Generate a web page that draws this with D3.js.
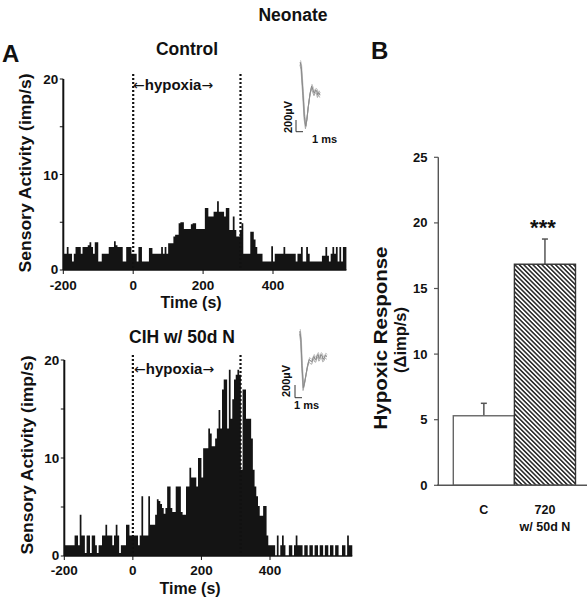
<!DOCTYPE html>
<html><head><meta charset="utf-8">
<script src="https://cdn.jsdelivr.net/npm/d3@7"></script>
<style>
body{margin:0;background:#fff}
svg{display:block}
text{font-family:"Liberation Sans",Arial,sans-serif;font-weight:bold;fill:#111}
</style>
</head><body>
<svg id="c" width="587" height="601"></svg>
<script>
// ---------- DATA ----------
const binWidth = 5;          // s
const binStart = -200;       // s
const controlRates = [1.7,1.7,2.4,1.7,1.7,0.9,1.7,2.4,2.4,2.4,1.7,2.4,2.4,2.4,2.6,2.9,2.4,1.7,2.9,2.9,
  0.9,0.9,1.7,1.7,1.7,1.7,2.4,2.4,2.4,3.0,2.6,2.4,2.4,2.4,0.9,0.9,2.4,2.4,2.4,1.7,
  1.7,1.7,0.9,2.4,2.4,0.9,0.9,0.9,0.9,2.3,2.3,1.7,1.7,1.7,1.7,1.7,2.4,1.7,2.4,1.7,
  2.8,2.8,2.8,3.5,3.7,3.7,4.9,5.0,5.0,4.3,4.3,4.3,4.3,4.8,4.9,4.9,4.3,4.3,4.3,4.3,
  4.3,6.5,6.5,5.6,5.6,5.6,6.1,6.1,7.2,6.1,6.1,6.1,5.6,6.5,6.5,4.2,4.2,5.6,4.2,3.5,
  3.5,4.2,4.9,1.7,1.7,1.7,1.7,4.0,4.0,3.2,2.4,1.7,1.7,1.7,0.9,0.9,0.9,0.9,0.9,2.5,
  0.9,1.7,1.7,1.7,1.7,1.7,2.4,1.7,1.7,1.7,1.7,1.7,1.7,0.9,1.7,1.7,2.4,0.9,0.9,2.4,
  1.7,0.9,0.9,0.9,0.9,0.9,0.9,0.9,1.5,1.5,2.4,1.5,0.9,1.7,2.4,1.7,2.4,0.9,2.4,0.9,
  2.4,2.4];
const cihRates = [1.1,1.1,1.1,1.1,1.1,1.1,2.1,2.1,1.1,4.2,2.1,2.1,0.3,2.1,2.1,0.3,2.1,2.1,1.1,0.3,
  1.1,1.1,2.1,2.1,3.2,2.1,2.1,2.1,1.1,2.1,3.2,2.1,0.3,1.1,1.1,1.1,3.2,3.2,2.1,2.1,
  2.1,2.1,2.1,1.1,2.1,6.1,2.1,2.1,2.1,6.1,3.2,3.2,3.2,4.2,5.8,5.6,5.3,4.9,4.3,4.9,
  7.1,7.1,4.9,4.5,4.5,7.1,7.1,7.1,4.5,4.2,4.2,7.1,7.1,9.0,8.0,8.0,8.0,7.1,10.0,10.0,
  8.0,11.0,11.0,11.0,13.0,12.5,11.2,11.2,12.0,13.0,14.9,13.0,17.0,18.0,18.0,13.0,19.0,14.0,16.0,18.0,
  18.5,19.0,18.5,8.8,17.0,17.0,14.0,14.0,14.0,12.0,8.8,7.1,6.1,5.1,4.1,4.1,5.1,5.1,2.1,1.1,
  1.1,1.1,1.1,0,2.1,0,1.1,2.1,1.1,0,0,1.1,1.1,0,1.1,2.1,1.1,1.1,1.1,0,
  1.1,1.1,0,1.1,1.1,0,1.1,1.1,0,1.1,1.1,0,1.1,1.1,0,1.1,1.1,0,1.1,1.1,
  0,0,1.1,1.1,0,2.1,1.1,1.1];
const timeTicks = [-200, 0, 200, 400];
const rateTicks = [0, 5, 10, 15, 20];
const rateTickLabels = [0, 10, 20];
const hypoxiaStart = 0;
const hypoxiaEnd = [307, 314];
const panelTitles = ["Control", "CIH w/ 50d N"];

const groups = ["C", "720"];
const groupSubLabels = ["", "w/ 50d N"];
const responseMean = [5.3, 16.85];
const responseSEM = [0.95, 1.92];
const responseTicks = [0, 5, 10, 15, 20, 25];

// spike waveform insets (ms, µV)
const waveTop = [[0.6,1180],[0.75,1100],[1.0,650],[1.2,250],[1.39,85],[1.55,200],[1.75,420],[2.0,640],[2.24,770],
  [2.45,700],[2.61,650],[2.8,700],[2.96,690],[3.1,620],[3.25,660],[3.43,620]];
const waveBot = [[0.7,1040],[0.85,900],[1.0,500],[1.19,148],[1.35,220],[1.57,357],[1.8,500],[2.04,594],[2.25,570],
  [2.43,562],[2.6,620],[2.71,641],[2.85,600],[3.0,594],[3.15,650],[3.29,672],[3.45,610],[3.57,625],[3.7,670],
  [3.86,657],[4.0,600],[4.14,610],[4.35,660],[4.57,641]];

// ---------- DRAW ----------
const svg = d3.select("#c");

svg.append("text").attr("x", 293).attr("y", 21).attr("text-anchor", "middle")
  .style("font-size", "17.5px").text("Neonate");
svg.append("text").attr("x", 2).attr("y", 62).style("font-size", "24px").text("A");
svg.append("text").attr("x", 371).attr("y", 59).style("font-size", "24px").text("B");

const panels = [
  {rates: controlRates, x0: 63.3, x400: 273, yTop: 79, yBot: 270, title: panelTitles[0], titleX: 187, titleY: 55,
   dotTop: 74, hypY: 90, hypX: 133, tickLblY: 289.5, timeY: 307.5, ylabY: 173, ylabX: 24, hEnd: hypoxiaEnd[0],
   wave: waveTop, wx: 296, wy: 131.7, wsx: 7, wsy: 11.7, mvX: 288, mvY: 117, msX: 312, msY: 143},
  {rates: cihRates, x0: 64.3, x400: 270, yTop: 360, yBot: 556, title: panelTitles[1], titleX: 182, titleY: 343,
   dotTop: 355, hypY: 374, hypX: 134, tickLblY: 575, timeY: 594, ylabY: 455, ylabX: 26, hEnd: hypoxiaEnd[1],
   wave: waveBot, wx: 295, wy: 397.7, wsx: 7, wsy: 12.7, mvX: 286, mvY: 381, msX: 294, msY: 409}
];

panels.forEach(p => {
  const x = d3.scaleLinear().domain([-200, 400]).range([p.x0, p.x400]);
  const y = d3.scaleLinear().domain([0, 20]).range([p.yBot, p.yTop]);
  const g = svg.append("g");

  // histogram as a stepped area (bins are contiguous)
  const pts = p.rates.map((v, i) => [binStart + i * binWidth, v]);
  pts.push([binStart + p.rates.length * binWidth, p.rates[p.rates.length - 1]]);
  const area = d3.area().x(d => x(d[0])).y0(y(0)).y1(d => y(d[1])).curve(d3.curveStepAfter);
  g.append("path").attr("d", area(pts)).attr("fill", "#141414");

  const xEnd = x(binStart + p.rates.length * binWidth);
  // x axis
  g.append("line").attr("x1", p.x0).attr("x2", xEnd).attr("y1", y(0)).attr("y2", y(0))
    .attr("stroke", "#111").attr("stroke-width", 1.5);
  g.selectAll("line.xt").data(timeTicks).join("line")
    .attr("x1", d => x(d)).attr("x2", d => x(d)).attr("y1", y(0)).attr("y2", y(0) + 4)
    .attr("stroke", "#111").attr("stroke-width", 1);
  g.selectAll("text.xt").data(timeTicks).join("text")
    .attr("x", d => x(d)).attr("y", p.tickLblY).attr("text-anchor", "middle")
    .style("font-size", "13.5px").text(d => d);
  // y axis
  g.append("line").attr("x1", p.x0).attr("x2", p.x0).attr("y1", y(20)).attr("y2", y(0))
    .attr("stroke", "#111").attr("stroke-width", 2);
  g.selectAll("line.yt").data(rateTicks).join("line")
    .attr("x1", p.x0 - 3.5).attr("x2", p.x0).attr("y1", d => y(d)).attr("y2", d => y(d))
    .attr("stroke", "#111").attr("stroke-width", 1);
  g.selectAll("text.yt").data(rateTickLabels).join("text")
    .attr("x", p.x0 - 5).attr("y", d => y(d) + (d === 0 ? 3.5 : 5)).attr("text-anchor", "end")
    .style("font-size", "13.5px").text(d => d);

  // hypoxia lines
  [hypoxiaStart, p.hEnd].forEach(t => {
    g.append("line").attr("x1", x(t)).attr("x2", x(t)).attr("y1", p.dotTop).attr("y2", y(0))
      .attr("stroke", "#111").attr("stroke-width", 2.2).attr("stroke-dasharray", "2,2");
  });
  const ht = g.append("text").attr("x", p.hypX).attr("y", p.hypY).style("font-size", "15px");
  ht.append("tspan").style("font-family", "DejaVu Sans").style("font-weight", "normal").style("font-size", "14px").text("\u2190");
  ht.append("tspan").text("hypoxia");
  ht.append("tspan").style("font-family", "DejaVu Sans").style("font-weight", "normal").style("font-size", "14px").text("\u2192");

  // titles / labels
  g.append("text").attr("x", p.titleX).attr("y", p.titleY).attr("text-anchor", "middle")
    .style("font-size", "17.5px").text(p.title);
  g.append("text").attr("x", (p.x0 + p.x400) / 2 + 23).attr("y", p.timeY).attr("text-anchor", "middle")
    .style("font-size", "16px").text("Time (s)");
  g.append("text").attr("transform", `translate(${p.ylabX + 6.5},${p.ylabY}) rotate(-90)`)
    .attr("text-anchor", "middle").attr("textLength", 199).attr("lengthAdjust", "spacingAndGlyphs")
    .style("font-size", "17px").text("Sensory Activity (imp/s)");

  // waveform inset
  const wxS = d3.scaleLinear().domain([0, 1]).range([p.wx, p.wx + p.wsx]);
  const wyS = d3.scaleLinear().domain([0, 200]).range([p.wy, p.wy - p.wsy]);
  const offs = [[0, 0, "#b0b0b0"], [0.05, 40, "#c0c0c0"], [-0.04, -35, "#a8a8a8"], [0, 10, "#8a8a8a"]];
  offs.forEach(o => {
    const ln = d3.line().x(d => wxS(d[0] + o[0])).y(d => wyS(d[1] + o[1]));
    g.append("path").attr("d", ln(p.wave)).attr("fill", "none").attr("stroke", o[2]).attr("stroke-width", 1);
  });
  g.append("path").attr("d", `M${wxS(0)},${wyS(200)}V${wyS(0)}H${wxS(1)}`)
    .attr("fill", "none").attr("stroke", "#333").attr("stroke-width", 1);
  g.append("text").attr("transform", `translate(${p.mvX + 4},${p.mvY}) rotate(-90)`).attr("text-anchor", "middle")
    .style("font-size", "11px").text("200\u00b5V");
  g.append("text").attr("x", p.msX).attr("y", p.msY).style("font-size", "11px").text("1 ms");
});

// ---------- Panel B ----------
const yB = d3.scaleLinear().domain([0, 25]).range([485.3, 157.3]);
const xB = d3.scaleBand().domain(groups).range([453.3, 575.5]).paddingInner(0);
const defs = svg.append("defs");
const pat = defs.append("pattern").attr("id", "hatch").attr("patternUnits", "userSpaceOnUse")
  .attr("width", 3.2).attr("height", 3.2).attr("patternTransform", "rotate(-45)");
pat.append("rect").attr("width", 3.2).attr("height", 3.2).attr("fill", "#fff");
pat.append("line").attr("x1", 0.8).attr("x2", 0.8).attr("y1", 0).attr("y2", 3.2)
  .attr("stroke", "#111").attr("stroke-width", 1.4);

const gB = svg.append("g");
// error bars
groups.forEach((gname, i) => {
  const cx = xB(gname) + xB.bandwidth() / 2;
  gB.append("line").attr("x1", cx).attr("x2", cx).attr("y1", yB(responseMean[i])).attr("y2", yB(responseMean[i] + responseSEM[i]))
    .attr("stroke", "#555").attr("stroke-width", 1.5);
  gB.append("line").attr("x1", cx - 3).attr("x2", cx + 3).attr("y1", yB(responseMean[i] + responseSEM[i])).attr("y2", yB(responseMean[i] + responseSEM[i]))
    .attr("stroke", "#555").attr("stroke-width", 1.5);
});
gB.selectAll("rect.bar").data(groups).join("rect")
  .attr("x", d => xB(d)).attr("width", xB.bandwidth())
  .attr("y", (d, i) => yB(responseMean[i])).attr("height", (d, i) => yB(0) - yB(responseMean[i]))
  .attr("fill", (d, i) => i === 0 ? "#fff" : "url(#hatch)")
  .attr("stroke", (d, i) => i === 0 ? "#666" : "#333").attr("stroke-width", 1.4);

// axes
gB.append("line").attr("x1", 438.3).attr("x2", 438.3).attr("y1", yB(25)).attr("y2", yB(0))
  .attr("stroke", "#555").attr("stroke-width", 1.4);
gB.append("line").attr("x1", 437).attr("x2", 587).attr("y1", yB(0)).attr("y2", yB(0))
  .attr("stroke", "#555").attr("stroke-width", 1.4);
gB.selectAll("line.t").data(responseTicks).join("line")
  .attr("x1", 434).attr("x2", 438.3).attr("y1", d => yB(d)).attr("y2", d => yB(d))
  .attr("stroke", "#555").attr("stroke-width", 1.2);
gB.selectAll("text.t").data(responseTicks).join("text")
  .attr("x", 427.5).attr("y", d => yB(d) + 4.5).attr("text-anchor", "end")
  .style("font-size", "13px").text(d => d);
gB.selectAll("text.g").data(groups).join("text")
  .attr("x", d => xB(d) + xB.bandwidth() / 2).attr("y", 514).attr("text-anchor", "middle")
  .style("font-size", "12.5px").text(d => d);
gB.selectAll("text.g2").data(groupSubLabels).join("text")
  .attr("x", (d, i) => xB(groups[i]) + xB.bandwidth() / 2).attr("y", 530.5).attr("text-anchor", "middle")
  .style("font-size", "12.5px").text(d => d);
gB.append("text").attr("x", xB("720") + xB.bandwidth() / 2 - 2).attr("y", 235).attr("text-anchor", "middle")
  .style("font-size", "22px").text("***");
gB.append("text").attr("transform", "translate(386.5,338) rotate(-90)").attr("text-anchor", "middle")
  .attr("textLength", 183).attr("lengthAdjust", "spacingAndGlyphs")
  .style("font-size", "17.5px").text("Hypoxic Response");
gB.append("text").attr("transform", "translate(406,340) rotate(-90)").attr("text-anchor", "middle")
  .style("font-size", "16.5px").text("(\u0394imp/s)");
</script>
</body></html>
